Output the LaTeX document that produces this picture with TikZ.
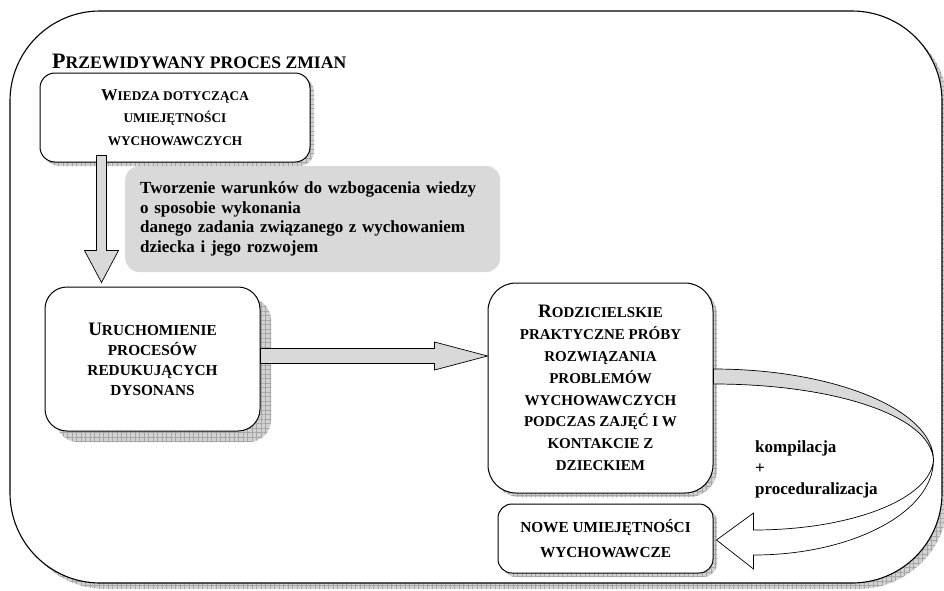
\documentclass[tikz,border=0pt]{standalone}
\usepackage{fontspec}
\setmainfont{Liberation Serif}
\usetikzlibrary{calc,shadows,patterns.meta}
\newcommand\BC[2]{{\fontsize{#1}{#1}\selectfont #2}}
\begin{document}
\begin{tikzpicture}[x=1pt,y=-1pt,
  shad/.style={general shadow={fill=gray!35,shadow xshift=#1,shadow yshift=-#1},
               general shadow={pattern={Hatch[distance=4.5pt,angle=0,line width=0.35pt]},pattern color=gray!70,shadow xshift=#1,shadow yshift=-#1}},
  box/.style={draw=black, line width=1pt, fill=white, align=center, inner sep=0pt},
  blk/.style={draw=black, line width=0.7pt, fill=gray!30, line join=miter},
]
\useasboundingbox (0,0) rectangle (944,590);
% outer frame
\draw[line width=1.1pt, fill=white, rounded corners=90pt, shad=6pt] (10,11) rectangle (942,583);
% title
\node[anchor=base west, font=\bfseries, inner sep=0pt] (title) at (52,68) {\BC{22}{P}\BC{17.6}{RZEWIDYWANY PROCES ZMIAN}};
% grey note
\node[fill=gray!30, rounded corners=14pt, anchor=west, text width=345pt, minimum height=106pt, inner xsep=15pt, align=left, font=\fontsize{17}{19.5}\selectfont\bfseries] (tworz) at (125,219) {Tworzenie warunków do wzbogacenia wiedzy\\o sposobie wykonania\\danego zadania związanego z wychowaniem\\dziecka i jego rozwojem};
% boxes
\node[box, rounded corners=15pt, minimum width=270pt, minimum height=89pt, shad=4pt, font=\fontsize{13.3}{22.5}\selectfont\bfseries] (wiedza) at (175,117.5) {\BC{16.6}{W}IEDZA DOTYCZĄCA\\UMIEJĘTNOŚCI\\WYCHOWAWCZYCH};
\node[box, rounded corners=22pt, minimum width=215pt, minimum height=144pt, shad=11pt, font=\fontsize{15.3}{20}\selectfont\bfseries] (uruch) at (152.5,359) {\BC{19}{U}RUCHOMIENIE\\PROCESÓW\\REDUKUJĄCYCH\\DYSONANS};
\node[box, rounded corners=28pt, minimum width=225pt, minimum height=210pt, shad=4pt, font=\fontsize{15}{21.8}\selectfont\bfseries] (rodz) at (600.5,388) {\BC{19}{R}ODZICIELSKIE\\PRAKTYCZNE PRÓBY\\ROZWIĄZANIA\\PROBLEMÓW\\WYCHOWAWCZYCH\\PODCZAS ZAJĘĆ I W\\KONTAKCIE Z\\DZIECKIEM};
\node[box, rounded corners=14pt, minimum width=215pt, minimum height=69pt, shad=4pt, font=\fontsize{15.3}{25}\selectfont\bfseries] (nowe) at (605.5,538.5) {NOWE UMIEJĘTNOŚCI\\WYCHOWAWCZE};
% label
\node[anchor=north west, align=left, inner sep=0pt, font=\fontsize{17}{21}\selectfont\bfseries] (kp) at (755,440) {kompilacja\\+\\proceduralizacja};
% vertical block arrow
\draw[blk] ($(wiedza.south west)+(57,-7)$) -- ($(wiedza.south west)+(67,-7)$) -- ($(wiedza.south west)+(67,88)$) -- ($(wiedza.south west)+(79,88)$) -- ($(wiedza.south west)+(62,120)$) -- ($(wiedza.south west)+(45,88)$) -- ($(wiedza.south west)+(57,88)$) -- cycle;
% horizontal block arrow
\coordinate (hs) at ($(uruch.east)+(0,-3)$);
\coordinate (ht) at (hs -| rodz.west);
\draw[blk] ($(hs)+(0,-7.5)$) -- ($(ht)+(-53,-7.5)$) -- ($(ht)+(-53,-14)$) -- (ht) -- ($(ht)+(-53,14)$) -- ($(ht)+(-53,7.5)$) -- ($(hs)+(0,7.5)$) -- cycle;
% curved ribbon arrow
\draw[line width=0.7pt, fill=gray!30] ($(rodz.east)+(0,-19)$) .. controls ($(rodz.east)+(121,-19)$) and ($(rodz.east)+(220,22)$) .. ($(rodz.east)+(220,72)$) .. controls ($(rodz.east)+(217,27)$) and ($(rodz.east)+(119,-4)$) .. ($(rodz.east)+(0,-4)$) -- cycle;
\draw[line width=0.7pt, fill=white, line join=miter] ($(rodz.east)+(220,72)$) .. controls ($(rodz.east)+(220,124)$) and ($(nowe.east)+(139,16.5)$) .. ($(nowe.east)+(40,16.5)$) -- ($(nowe.east)+(40,30.5)$) -- ($(nowe.east)+(3,1.5)$) -- ($(nowe.east)+(40,-25.5)$) -- ($(nowe.east)+(40,-8.5)$) .. controls ($(nowe.east)+(138,-8.5)$) and ($(rodz.east)+(217,111)$) .. ($(rodz.east)+(220,72)$) -- cycle;
\end{tikzpicture}
\end{document}
